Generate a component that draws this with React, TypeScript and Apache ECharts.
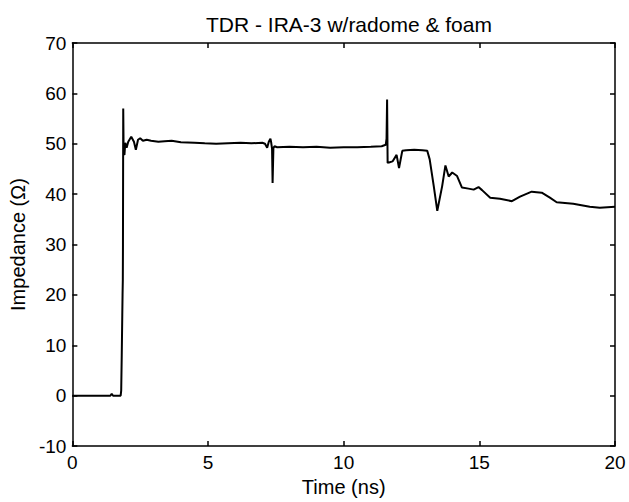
import React, { useEffect, useRef } from "react";
import * as echarts from "echarts";

const titleText = "TDR - IRA-3 w/radome & foam";
const xName = "Time (ns)";
const yName = "Impedance (Ω)";

const timeNs = [
  0, 1.4, 1.45, 1.5, 1.78, 1.8, 1.82, 1.84, 1.85, 1.86, 1.865, 1.875, 1.89, 1.92,
  1.95, 2.0, 2.06, 2.17, 2.27, 2.34, 2.42, 2.5, 2.6, 2.74, 2.9, 3.17, 3.4, 3.66,
  4.0, 4.5, 4.88, 5.3, 5.74, 6.2, 6.6, 7.0, 7.1, 7.18, 7.24, 7.3, 7.33, 7.36,
  7.38, 7.41, 7.45, 7.55, 8.0, 8.5, 9.0, 9.5, 10.0, 10.5, 11.0, 11.4, 11.55,
  11.58, 11.6, 11.62, 11.67, 11.8, 11.95, 12.04, 12.16, 12.3, 12.6, 12.9, 13.08,
  13.17, 13.32, 13.45, 13.63, 13.75, 13.87, 14.0, 14.18, 14.36, 14.6, 14.79,
  14.97, 15.1, 15.4, 15.76, 16.2, 16.5, 16.93, 17.3, 17.6, 17.85, 18.46, 19.07,
  19.44, 20.0,
];
const impedance = [
  0, 0, 0.4, 0, 0, 1, 8, 16, 20, 23, 30, 57, 48, 47.8,
  50.2, 49.2, 50.4, 51.4, 50.4, 48.8, 50.8, 51.1, 50.6, 50.8, 50.6, 50.4, 50.5, 50.6,
  50.3, 50.2, 50.1, 50.0, 50.1, 50.2, 50.1, 50.2, 50.0, 49.2, 50.4, 51.0, 50.2, 49.0,
  42.2, 49.2, 49.5, 49.3, 49.4, 49.3, 49.4, 49.2, 49.3, 49.3, 49.4, 49.5, 49.8,
  51.0, 58.8, 46.2, 46.3, 46.5, 47.8, 45.2, 48.6, 48.7, 48.8, 48.7, 48.6,
  46.9, 41.6, 36.7, 41.6, 45.7, 43.5, 44.3, 43.6, 41.3, 41.1, 40.9,
  41.4, 40.8, 39.3, 39.1, 38.6, 39.5, 40.5, 40.3, 39.3, 38.4, 38.1, 37.5,
  37.3, 37.5,
];

const FONT = "Liberation Sans, Arial, sans-serif";

export default function App() {
  const ref = useRef<HTMLDivElement>(null);
  useEffect(() => {
    if (!ref.current) return;
    const chart = echarts.init(ref.current, null, { renderer: "svg" });
    const data = timeNs.map((t, i) => [t, impedance[i]]);
    const axisLine = { show: true, onZero: false, lineStyle: { color: "#000", width: 1.5 } };
    const tick = { show: true, inside: true, length: 5, lineStyle: { color: "#000", width: 1.5 } };
    const label = { color: "#000", fontSize: 19, fontFamily: FONT };
    chart.setOption({
      animation: false,
      backgroundColor: "#fff",
      title: {
        text: titleText,
        left: 344,
        top: 9,
        textAlign: "center",
        textStyle: { color: "#000", fontSize: 21, fontWeight: "normal", fontFamily: FONT },
      },
      grid: { left: 70, right: 14, top: 43, bottom: 54, containLabel: false },
      xAxis: [
        {
          type: "value",
          min: 0,
          max: 20,
          interval: 5,
          position: "bottom",
          axisLine,
          axisTick: tick,
          axisLabel: { ...label, margin: 7 },
          splitLine: { show: false },
          name: xName,
          nameLocation: "middle",
          nameGap: 29,
          nameTextStyle: { color: "#000", fontSize: 20, fontFamily: FONT },
        },
        {
          type: "value",
          min: 0,
          max: 20,
          interval: 5,
          position: "top",
          axisLine,
          axisTick: tick,
          axisLabel: { show: false },
          splitLine: { show: false },
        },
      ],
      yAxis: [
        {
          type: "value",
          min: -10,
          max: 70,
          interval: 10,
          position: "left",
          axisLine,
          axisTick: tick,
          axisLabel: { ...label, margin: 6 },
          splitLine: { show: false },
          name: yName,
          nameLocation: "middle",
          nameGap: 34,
          nameTextStyle: { color: "#000", fontSize: 20, fontFamily: FONT },
        },
        {
          type: "value",
          min: -10,
          max: 70,
          interval: 10,
          position: "right",
          axisLine,
          axisTick: tick,
          axisLabel: { show: false },
          splitLine: { show: false },
        },
      ],
      series: [
        {
          type: "line",
          data,
          showSymbol: false,
          symbol: "none",
          lineStyle: { color: "#000", width: 2 },
          itemStyle: { color: "#000" },
        },
      ],
    });
    return () => chart.dispose();
  }, []);
  return (
    <div
      ref={ref}
      style={{ position: "absolute", left: 0, top: 0, width: 629, height: 502 }}
    />
  );
}
